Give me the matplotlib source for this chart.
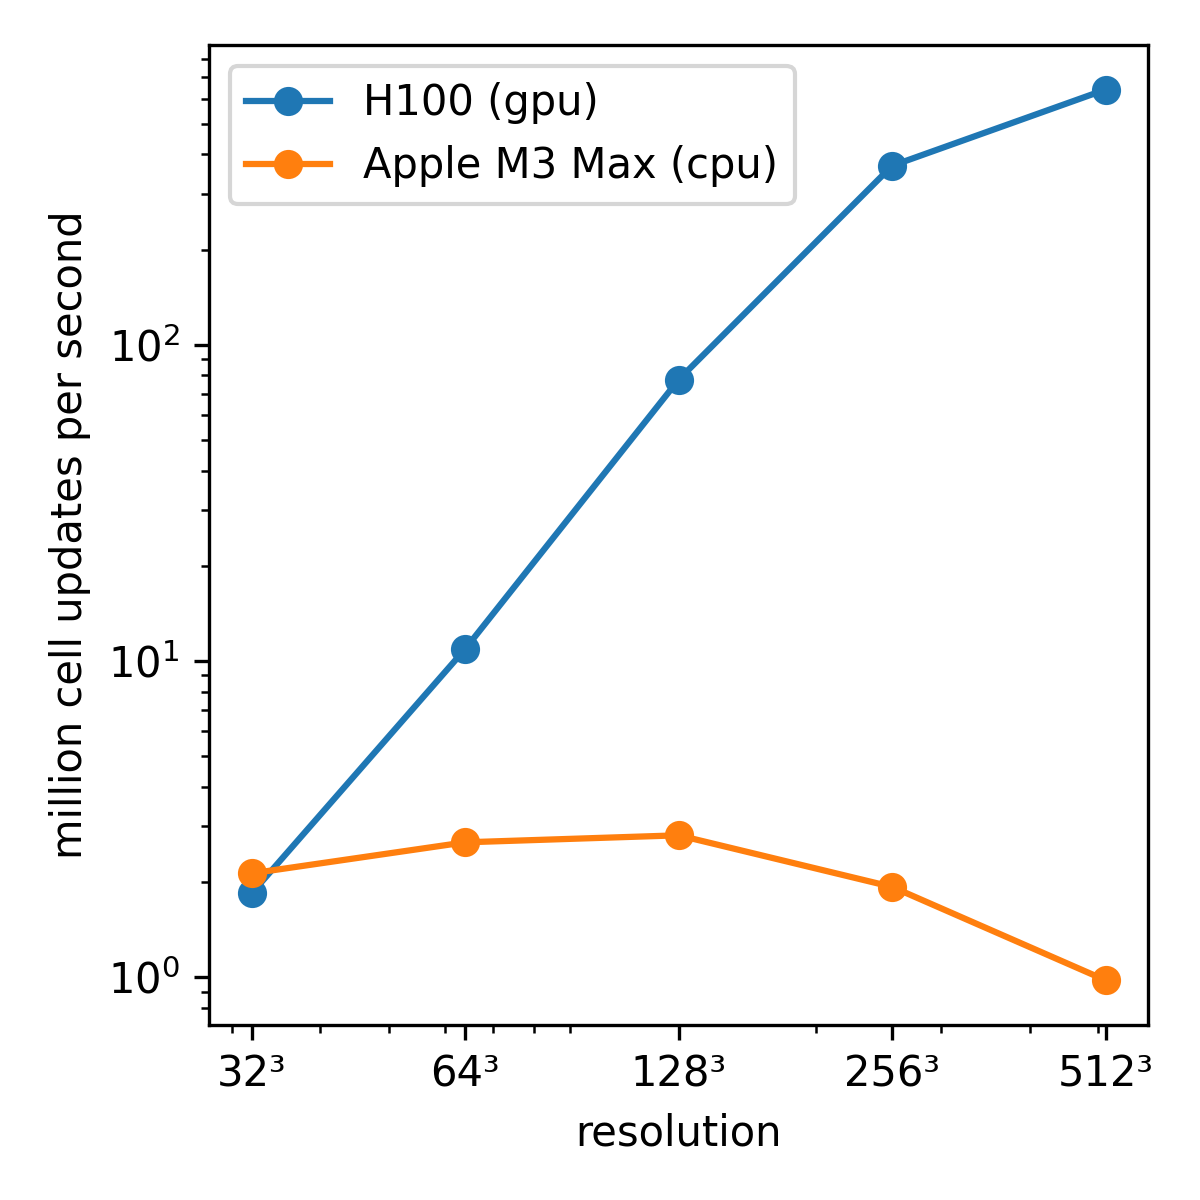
import numpy as np
import matplotlib.pyplot as plt

resolution = [32, 64, 128, 256, 512]
res_labels = ['32³', '64³', '128³', '256³', '512³']
h100 = [1.84, 10.9, 77.5, 368, 641]
m3max = [2.13, 2.67, 2.81, 1.93, 0.978]

fig, ax = plt.subplots(figsize=(4, 4), dpi=300)
ax.plot(resolution, h100, 'o-', label='H100 (gpu)')
ax.plot(resolution, m3max, 'o-', label='Apple M3 Max (cpu)')
ax.set_xscale('log')
ax.set_yscale('log')
ax.set_xticks(resolution)
ax.set_xticklabels(res_labels)
ax.set_xlabel('resolution')
ax.set_ylabel('million cell updates per second')
ax.legend(loc='upper left')
fig.subplots_adjust(left=0.174, right=0.957, top=0.9625, bottom=0.146)
fig.savefig('out.png')
